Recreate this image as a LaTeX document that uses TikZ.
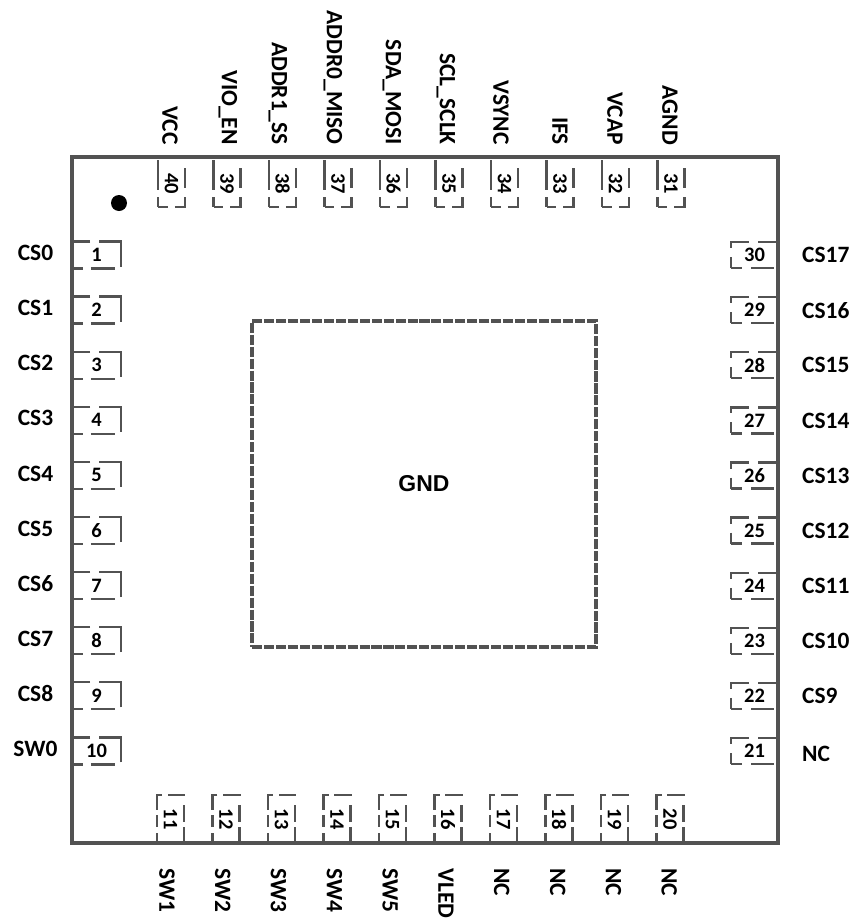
\documentclass[tikz,border=0pt]{standalone}
\usepackage{fontspec}
\setmainfont{Carlito}
\newfontfamily\gndfont{Liberation Sans}
\tikzset{
  pinbox/.style={draw=black!68, line width=1.9pt, outer sep=0pt, inner sep=0pt, font=\bfseries\fontsize{17.5}{17.5}\selectfont},
  leftpin/.style={pinbox, minimum width=1.47cm, minimum height=0.81cm,
    dash pattern=on 9.4pt off 6.8pt on 20.5pt off 6.8pt on 40.1pt off 7.7pt on 38.4pt},
  rightpin/.style={pinbox, minimum width=1.41cm, minimum height=0.78cm,
    dash pattern=on 9.4pt off 7.7pt on 19.6pt off 3.4pt on 39.3pt off 7.7pt on 20.5pt off 7.7pt on 9.4pt},
  toppin/.style={pinbox, minimum width=0.81cm, minimum height=1.41cm,
    dash pattern=on 8.5pt off 6pt on 17.1pt off 7.7pt on 17.1pt off 29.9pt on 25.6pt off 6pt on 8.5pt},
  botpin/.style={pinbox, minimum width=0.81cm, minimum height=1.44cm,
    dash pattern=on 36.7pt off 4.3pt on 14.5pt off 8.5pt on 13.7pt off 5.1pt on 17.1pt off 4.3pt on 10.2pt off 5.1pt on 8.5pt},
  signame/.style={inner sep=0pt, font=\bfseries\fontsize{20}{20}\selectfont},
}
\begin{document}
\begin{tikzpicture}[x=0.03cm,y=-0.03cm]
\useasboundingbox (0,0) rectangle (853,919);

% Left pins
\foreach \n/\name in {1/CS0,2/CS1,3/CS2,4/CS3,5/CS4,6/CS5,7/CS6,8/CS7,9/CS8,10/SW0}{
  \node[leftpin] (pin\n) at (96.5,{255+55.1*(\n-1)}) {\n};
  \node[signame] (sig\n) at (35.5,{253+55.1*(\n-1)}) {\name};
}

% Bottom pins
\foreach \n/\name in {11/SW1,12/SW2,13/SW3,14/SW4,15/SW5,16/VLED,17/NC,18/NC,19/NC,20/NC}{
  \node[botpin] (pin\n) at ({170.5+55.5*(\n-11)},819) {\rotatebox{-90}{\n}};
  \node[signame, rotate=-90, anchor=west] (sig\n) at ({167+55.8*(\n-11)},868) {\name};
}

% Right pins
\foreach \n/\name in {21/NC,22/CS9,23/CS10,24/CS11,25/CS12,26/CS13,27/CS14,28/CS15,29/CS16,30/CS17}{
  \node[rightpin] (pin\n) at (754.5,{751+55.1*(21-\n)}) {\n};
  \node[signame, anchor=west] (sig\n) at (802,{\n==21 ? 754 : 751+55.1*(21-\n)}) {\name};
}

% Top pins
\foreach \n/\name/\xpos in {31/AGND/670,32/VCAP/615,33/IFS/560,34/VSYNC/501,35/SCL\_SCLK/446,36/SDA\_MOSI/392,37/ADDR0\_MISO/333,38/ADDR1\_SS/278,39/VIO\_EN/228,40/VCC/170}{
  \node[toppin] (pin\n) at ({671-55.5*(\n-31)},183.5) {\rotatebox{-90}{\n}};
  \node[signame, rotate=-90, anchor=east] (sig\n) at (\xpos,145) {\name};
}

% Body
\draw[black!68, line width=3.4pt, line join=miter] (72,157) rectangle (778,843);

% Pad
\node[draw=black!68, line width=3.1pt, outer sep=0pt, dash pattern=on 8.6pt off 1.6pt, minimum width=10.32cm, minimum height=9.78cm, inner sep=0pt, font=\gndfont\bfseries\fontsize{19.6}{19.6}\selectfont] (pad) at (424,484) {GND};

% Pin one mark
\fill (119,203) circle (8);
\end{tikzpicture}
\end{document}
